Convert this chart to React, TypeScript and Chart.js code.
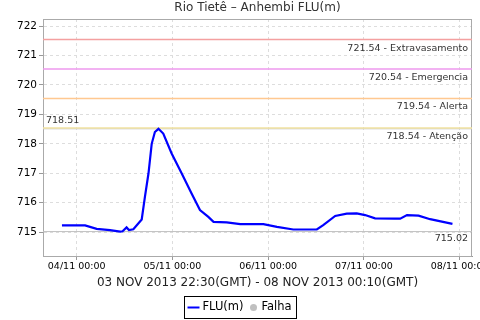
import React, { useEffect, useRef } from "react";
import { Chart, registerables } from "chart.js";

Chart.register(...registerables);

const chartTitle = "Rio Tietê – Anhembi FLU(m)";
const xAxisTitle = "03 NOV 2013 22:30(GMT) - 08 NOV 2013 00:10(GMT)";

// hours since 04/11 00:00
const hours = [-3.7, 2.1, 5.0, 8.35, 10.9, 11.5, 12.5, 13.1, 14.2, 16.3, 17.1, 18.0, 18.8, 19.6, 20.5, 21.7, 23.8, 26.3, 28.8, 30.9, 33.0, 34.3, 37.6, 41.0, 46.8, 50.2, 54.3, 60.2, 61.8, 64.8, 67.7, 70.2, 72.3, 74.8, 79.8, 81.1, 82.8, 85.7, 88.6, 94.2];
const levels = [715.23, 715.23, 715.11, 715.07, 715.02, 715.03, 715.16, 715.07, 715.10, 715.43, 716.2, 717.0, 718.0, 718.4, 718.51, 718.35, 717.67, 717.0, 716.31, 715.75, 715.52, 715.35, 715.33, 715.27, 715.27, 715.18, 715.09, 715.09, 715.24, 715.55, 715.63, 715.64, 715.58, 715.47, 715.46, 715.46, 715.58, 715.56, 715.44, 715.28];

const xTickValues = [0, 24, 48, 72, 96];
const xTickLabels = ["04/11 00:00", "05/11 00:00", "06/11 00:00", "07/11 00:00", "08/11 00:00"];
const yTickValues = [715, 716, 717, 718, 719, 720, 721, 722];

const xMin = -8.45;
const xMax = 99.1;
const yMin = 714.19;
const yMax = 722.24;

const thresholdValues = [721.54, 720.54, 719.54, 718.54];
const thresholdNames = ["Extravasamento", "Emergencia", "Alerta", "Atenção"];
const thresholdColors = ["#f4a0a0", "#ee99ee", "#ffc890", "#f0e2a0"];

const maxValue = 718.51;
const minValue = 715.02;

const seriesLabel = "FLU(m)";
const failLabel = "Falha";

const FONT = "'DejaVu Sans', sans-serif";

export default function App() {
  const ref = useRef<HTMLCanvasElement | null>(null);

  useEffect(() => {
    document.body.style.margin = "0";
    const canvas = ref.current;
    if (!canvas) return;

    const hLine = (v: number) => [
      { x: xMin, y: v },
      { x: xMax, y: v },
    ];

    const datasets: any[] = [
      {
        label: seriesLabel,
        data: hours.map((h, i) => ({ x: h, y: levels[i] })),
        borderColor: "#0000ff",
        borderWidth: 2.2,
        pointRadius: 0,
        tension: 0,
        order: 0,
      },
      {
        label: "max",
        data: hLine(maxValue),
        borderColor: "#c8c8c8",
        borderWidth: 1,
        pointRadius: 0,
        order: 2,
      },
      {
        label: "min",
        data: hLine(minValue),
        borderColor: "#c0c0c0",
        borderWidth: 1,
        pointRadius: 0,
        order: 2,
      },
      ...thresholdValues.map((v, i) => ({
        label: thresholdNames[i],
        data: hLine(v),
        borderColor: thresholdColors[i],
        borderWidth: 1.5,
        pointRadius: 0,
        order: 1,
      })),
    ];

    const decor = {
      id: "decor",
      beforeDatasetsDraw(chart: any) {
        const { ctx, chartArea: a } = chart;
        ctx.save();
        ctx.strokeStyle = "#aaaaaa";
        ctx.lineWidth = 1;
        ctx.strokeRect(a.left + 0.5, a.top + 0.5, a.right - a.left - 1, a.bottom - a.top);
        ctx.restore();
      },
      afterDraw(chart: any) {
        const { ctx, chartArea: a, scales } = chart;
        const y = scales.y;
        ctx.save();
        // title
        ctx.fillStyle = "#333333";
        ctx.font = `12px ${FONT}`;
        ctx.textAlign = "center";
        ctx.textBaseline = "middle";
        ctx.fillText(chartTitle, (a.left + a.right) / 2, 8);

        // threshold labels
        ctx.font = `9.5px ${FONT}`;
        ctx.fillStyle = "#333333";
        ctx.textAlign = "right";
        thresholdValues.forEach((v, i) => {
          const py = y.getPixelForValue(v);
          ctx.fillText(`${v.toFixed(2)} - ${thresholdNames[i]}`, a.right - 4, py + 8.5);
        });
        ctx.fillText(minValue.toFixed(2), a.right - 4, y.getPixelForValue(minValue) + 7);
        ctx.textAlign = "left";
        ctx.fillText(maxValue.toFixed(2), a.left + 3, y.getPixelForValue(maxValue) - 8.5);

        // legend
        const lw = 112;
        const lh = 22;
        const lx = Math.round(chart.width / 2 - lw / 2) + 0.5;
        const ly = 296.5;
        ctx.strokeStyle = "#000000";
        ctx.lineWidth = 1;
        ctx.strokeRect(lx, ly, lw, lh);
        const cy = ly + lh / 2;
        ctx.strokeStyle = "#0000ff";
        ctx.lineWidth = 2;
        ctx.beginPath();
        ctx.moveTo(lx + 3, cy);
        ctx.lineTo(lx + 15, cy);
        ctx.stroke();
        ctx.font = `11.5px ${FONT}`;
        ctx.fillStyle = "#000000";
        ctx.textAlign = "left";
        ctx.fillText(seriesLabel, lx + 18, cy);
        ctx.fillStyle = "#c0c0c0";
        ctx.beginPath();
        ctx.arc(lx + 69, cy, 3.5, 0, Math.PI * 2);
        ctx.fill();
        ctx.fillStyle = "#000000";
        ctx.fillText(failLabel, lx + 77, cy);
        ctx.restore();
      },
    };

    const chart = new Chart(canvas, {
      type: "line",
      data: { datasets },
      plugins: [decor],
      options: {
        animation: false,
        responsive: false,
        maintainAspectRatio: false,
        layout: { padding: { top: 19, left: 0, right: 8, bottom: 30 } },
        plugins: {
          legend: { display: false },
          title: { display: false },
          tooltip: { enabled: false },
        },
        scales: {
          x: {
            type: "linear",
            min: xMin,
            max: xMax,
            afterBuildTicks: (s: any) => {
              s.ticks = xTickValues.map((v) => ({ value: v }));
            },
            afterFit: (s: any) => {
              s.height = 34;
              s.paddingLeft = 0;
              s.paddingRight = 0;
            },
            ticks: {
              autoSkip: false,
              maxRotation: 0,
              padding: 1,
              color: "#000000",
              font: { family: FONT, size: 9.5 },
              callback: (v: any) => {
                const i = xTickValues.indexOf(Number(v));
                return i >= 0 ? xTickLabels[i] : "";
              },
            },
            grid: {
              color: "#dddddd",
              tickColor: "#999999",
              tickLength: 4,
              drawTicks: true,
            },
            border: { color: "#999999", width: 1, dash: [3, 3] },
            title: {
              display: true,
              text: xAxisTitle,
              color: "#222222",
              font: { family: FONT, size: 12 },
              padding: { top: 0, bottom: 0 },
            },
          },
          y: {
            type: "linear",
            min: yMin,
            max: yMax,
            afterBuildTicks: (s: any) => {
              s.ticks = yTickValues.map((v) => ({ value: v }));
            },
            afterFit: (s: any) => {
              s.width = 43;
              s.paddingTop = 0;
              s.paddingBottom = 0;
            },
            ticks: {
              padding: 2,
              color: "#000000",
              font: { family: FONT, size: 10.5 },
              callback: (v: any) => String(v),
            },
            grid: {
              color: "#dddddd",
              tickColor: "#999999",
              tickLength: 4,
              drawTicks: true,
            },
            border: { color: "#999999", width: 1, dash: [3, 3] },
          },
        },
      },
    });

    return () => chart.destroy();
  }, []);

  return (
    <div style={{ width: 480, height: 320 }}>
      <canvas ref={ref} width={480} height={320} style={{ display: "block" }} />
    </div>
  );
}
